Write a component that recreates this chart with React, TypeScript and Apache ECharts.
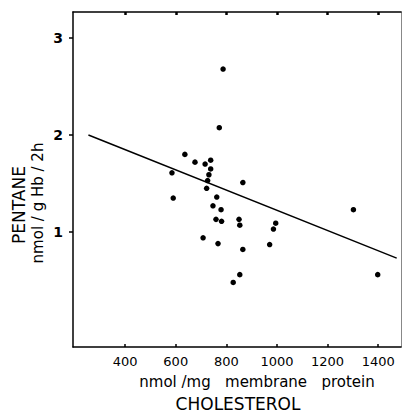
import React, { useEffect, useRef } from "react";
import * as echarts from "echarts";

const xTicks = [400, 600, 800, 1000, 1200, 1400];
const yTicks = [1, 2, 3];
const cholesterol = [787, 772, 636, 676, 716, 738, 738, 731, 585, 726, 865, 722, 590, 762, 747, 779, 759, 781, 850, 853, 995, 986, 708, 767, 865, 971, 853, 827, 1302, 1398];
const pentane = [2.68, 2.075, 1.8, 1.72, 1.7, 1.74, 1.65, 1.59, 1.61, 1.53, 1.51, 1.45, 1.35, 1.36, 1.27, 1.23, 1.13, 1.11, 1.13, 1.07, 1.09, 1.03, 0.94, 0.88, 0.82, 0.87, 0.56, 0.48, 1.23, 0.56];
const lineX = [255, 1473];
const lineY = [2.0, 0.73];

const FONT = "DejaVu Sans";

export default function App() {
  const ref = useRef<HTMLDivElement>(null);
  useEffect(() => {
    if (!ref.current) return;
    const chart = echarts.init(ref.current, null, { renderer: "svg" });
    const xMin = 194, xMax = 1490, yMin = -0.186, yMax = 3.268;
    chart.setOption({
      animation: false,
      backgroundColor: "#fff",
      grid: { left: 73, top: 12, right: 1, bottom: 67, containLabel: false },
      xAxis: [
        {
          type: "value", min: xMin, max: xMax, position: "bottom",
          splitLine: { show: false },
          axisLine: { show: true, onZero: false, lineStyle: { color: "#000", width: 1.5 } },
          axisTick: { show: true, inside: true, length: 3, customValues: xTicks, lineStyle: { color: "#000", width: 1.5 } },
          axisLabel: { show: true, customValues: xTicks, formatter: (v: number) => String(v), color: "#000", fontFamily: FONT, fontSize: 13, margin: 8 },
        },
        {
          type: "value", min: xMin, max: xMax, position: "top",
          splitLine: { show: false },
          axisLine: { show: true, onZero: false, lineStyle: { color: "#000", width: 1.5 } },
          axisTick: { show: true, inside: true, length: 3, customValues: xTicks, lineStyle: { color: "#000", width: 2.5 } },
          axisLabel: { show: false },
        },
      ],
      yAxis: [
        {
          type: "value", min: yMin, max: yMax, position: "left",
          splitLine: { show: false },
          axisLine: { show: true, onZero: false, lineStyle: { color: "#000", width: 1.5 } },
          axisTick: { show: true, inside: false, length: 4, customValues: yTicks, lineStyle: { color: "#000", width: 1.5 } },
          axisLabel: { show: true, customValues: yTicks, formatter: (v: number) => String(v), color: "#000", fontFamily: FONT, fontSize: 14, fontWeight: "bold", margin: 10 },
        },
        {
          type: "value", min: yMin, max: yMax, position: "right",
          splitLine: { show: false },
          axisLine: { show: true, onZero: false, lineStyle: { color: "#888", width: 1 } },
          axisTick: { show: false },
          axisLabel: { show: false },
        },
      ],
      series: [
        {
          type: "scatter",
          xAxisIndex: 0, yAxisIndex: 0,
          symbol: "circle", symbolSize: 5.5,
          itemStyle: { color: "#000", opacity: 1 },
          data: cholesterol.map((c, i) => [c, pentane[i]]),
        },
        {
          type: "line",
          xAxisIndex: 0, yAxisIndex: 0,
          showSymbol: false, symbol: "none",
          lineStyle: { color: "#000", width: 1.5 },
          data: lineX.map((x, i) => [x, lineY[i]]),
        },
      ],
      graphic: [
        { type: "text", x: 257, y: 382, style: { text: "nmol /mg   membrane   protein", fill: "#000", font: `15px "${FONT}"`, textAlign: "center", textVerticalAlign: "middle" } },
        { type: "text", x: 238, y: 404, style: { text: "CHOLESTEROL", fill: "#000", font: `17px "${FONT}"`, textAlign: "center", textVerticalAlign: "middle" } },
        { type: "text", x: 19, y: 205, rotation: Math.PI / 2, style: { text: "PENTANE", fill: "#000", font: `17px "${FONT}"`, textAlign: "center", textVerticalAlign: "middle" } },
        { type: "text", x: 38, y: 203, rotation: Math.PI / 2, style: { text: "nmol / g Hb / 2h", fill: "#000", font: `15px "${FONT}"`, textAlign: "center", textVerticalAlign: "middle" } },
      ],
    });
    return () => chart.dispose();
  }, []);
  return <div ref={ref} style={{ position: "fixed", left: 0, top: 0, width: 402, height: 414 }} />;
}
